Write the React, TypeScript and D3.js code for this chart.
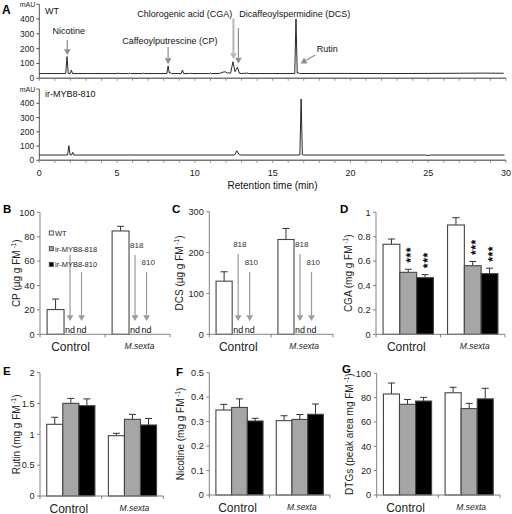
import React from "react";
import * as d3 from "d3";

const FONT = "'Liberation Sans', Arial, Helvetica, sans-serif";

// ---------- Panel A data: chromatogram traces [retention time (min), mAU] ----------
const wtTrace: [number, number][] = [
  [0, 32], [1.7, 32], [1.78, 146], [1.86, 33], [1.98, 33], [2.06, 55], [2.14, 32],
  [5.0, 32], [5.06, 36], [5.12, 32], [5.75, 32], [5.8, 35], [5.85, 32],
  [6.65, 32], [6.7, 35], [6.75, 32], [8.2, 32], [8.28, 83], [8.36, 34], [8.42, 40], [8.5, 32],
  [9.12, 32], [9.2, 56], [9.28, 32], [9.65, 32], [9.7, 36], [9.75, 32],
  [10.95, 32], [11.0, 37], [11.05, 32], [11.6, 33], [11.75, 40], [11.95, 44], [12.1, 36], [12.3, 36],
  [12.45, 112], [12.58, 45], [12.74, 75], [12.86, 34], [13.0, 32], [13.4, 35], [13.45, 32],
  [16.42, 32], [16.5, 400], [16.58, 34], [16.66, 38], [16.74, 32],
  [19, 33], [22, 32], [25, 33], [28.5, 35], [29.85, 34],
];
const irTrace: [number, number][] = [
  [0, 37], [1.82, 37], [1.9, 102], [1.98, 38], [2.08, 38], [2.15, 56], [2.22, 37],
  [5.78, 37], [5.83, 40], [5.88, 37], [12.55, 37], [12.7, 67], [12.85, 40], [13.0, 37],
  [16.75, 37], [16.83, 430], [16.91, 38], [17.0, 37], [24.8, 37], [25.0, 34], [25.2, 37], [29.9, 37],
];
const timeTicks = [0, 5, 10, 15, 20, 25, 30];
const mauTicks = [0, 100, 200, 300, 400];

// ---------- Bar panels data ----------
const categories = ["Control", "M.sexta"];
const series = ["WT", "ir-MYB8-818", "ir-MYB8-810"];
const seriesFill = ["#ffffff", "#a6a6a6", "#000000"];

const cpWT = [20.3, 84.7];
const cpWTErr = [8.6, 3.8];
const dcsWT = [130, 232];
const dcsWTErr = [23, 27];

const cgaWT = [0.738, 0.896];
const cgaWTErr = [0.043, 0.06];
const cga818 = [0.508, 0.562];
const cga818Err = [0.025, 0.035];
const cga810 = [0.464, 0.497];
const cga810Err = [0.025, 0.045];

const rutinWT = [1.163, 0.978];
const rutinWTErr = [0.114, 0.039];
const rutin818 = [1.503, 1.244];
const rutin818Err = [0.08, 0.08];
const rutin810 = [1.465, 1.152];
const rutin810Err = [0.11, 0.105];

const nicWT = [0.3475, 0.304];
const nicWTErr = [0.023, 0.02];
const nic818 = [0.358, 0.309];
const nic818Err = [0.035, 0.02];
const nic810 = [0.3025, 0.33];
const nic810Err = [0.011, 0.042];

const dtgWT = [83, 84];
const dtgWTErr = [9, 4.5];
const dtg818 = [74.5, 71];
const dtg818Err = [4, 4.3];
const dtg810 = [77.2, 79];
const dtg810Err = [3, 8.7];

type Ser = { mean: (number | null)[]; err: (number | null)[] };

function Chromatogram({ trace, yBase, yTop400, label, showTimeLabels }: any) {
  const x = d3.scaleLinear().domain([0, 30]).range([39.3, 506]);
  const y = d3.scaleLinear().domain([0, 400]).range([yBase, yTop400]);
  const line = d3.line<[number, number]>().x((d) => x(d[0])).y((d) => y(d[1]));
  const minorTicks = d3.range(0, 31, 1);
  return (
    <g>
      <line x1={x(0)} x2={x(0)} y1={y(500)} y2={y(0)} stroke="#555" strokeWidth={1} />
      {mauTicks.map((t) => (
        <g key={t}>
          <line x1={x(0) - 3} x2={x(0)} y1={y(t)} y2={y(t)} stroke="#555" />
          <text x={x(0) - 5} y={y(t)} dy="0.35em" textAnchor="end" fontSize={8.5} fill="#222">{t}</text>
        </g>
      ))}
      <line x1={x(0) - 3} x2={x(0)} y1={y(500)} y2={y(500)} stroke="#555" />
      <text x={x(0) - 4} y={y(500) + 2.5} textAnchor="end" fontSize={7} fill="#222">mAU</text>
      <line x1={x(0)} x2={x(30)} y1={y(0)} y2={y(0)} stroke="#777" strokeWidth={1.5} />
      {minorTicks.map((t) => (
        <line key={t} x1={x(t)} x2={x(t)} y1={y(0)} y2={y(0) + 2.5} stroke="#777" strokeWidth={0.8} />
      ))}
      <path d={line(trace) || ""} fill="none" stroke="#111" strokeWidth={0.9} />
      <text x={45} y={yTop400 - 6.5 + (label === "WT" ? 1 : 0)} fontSize={9} fill="#111">{label}</text>
      {showTimeLabels &&
        timeTicks.map((t) => (
          <text key={t} x={x(t)} y={176} textAnchor="middle" fontSize={9} fill="#222">{t}</text>
        ))}
    </g>
  );
}

function Arrow({ x1, y1, x2, y2, color = "#8c8c8c", width = 1.2, head = 4.5 }: any) {
  const ang = Math.atan2(y2 - y1, x2 - x1);
  const bx = x2 - head * 1.3 * Math.cos(ang);
  const by = y2 - head * 1.3 * Math.sin(ang);
  const px = Math.cos(ang + Math.PI / 2) * head * 0.75;
  const py = Math.sin(ang + Math.PI / 2) * head * 0.75;
  return (
    <g>
      <line x1={x1} y1={y1} x2={bx} y2={by} stroke={color} strokeWidth={width} />
      <polygon points={`${x2},${y2} ${bx + px},${by + py} ${bx - px},${by - py}`} fill={color} />
    </g>
  );
}

function PanelA() {
  const x = d3.scaleLinear().domain([0, 30]).range([39.3, 506]);
  const yT = d3.scaleLinear().domain([0, 400]).range([78.3, 19]);
  return (
    <g>
      <text x={2} y={14} fontSize={12} fontWeight="bold">A</text>
      <Chromatogram trace={wtTrace} yBase={78.3} yTop400={19} label="WT" showTimeLabels={false} />
      <Chromatogram trace={irTrace} yBase={160.3} yTop400={103.3} label="ir-MYB8-810" showTimeLabels={true} />
      {/* annotations */}
      <text x={x(1.9)} y={34.3} textAnchor="middle" fontSize={9} fill="#111">Nicotine</text>
      <Arrow x1={x(1.8)} y1={40} x2={x(1.8)} y2={yT(150) - 1} />
      <text x={x(8.3) + 1.5} y={44.3} textAnchor="middle" fontSize={9} fill="#111">Caffeoylputrescine (CP)</text>
      <Arrow x1={x(8.28)} y1={47} x2={x(8.28)} y2={yT(95)} />
      <text x={137.3} y={17.3} fontSize={9} fill="#111">Chlorogenic acid (CGA)</text>
      <Arrow x1={x(12.48)} y1={18.5} x2={x(12.48)} y2={yT(130)} color="#b5b5b5" width={2} />
      <text x={239.3} y={17.3} fontSize={9} fill="#111">Dicaffeoylspermidine (DCS)</text>
      <Arrow x1={x(12.8)} y1={28} x2={x(12.8)} y2={yT(100)} />
      <text x={316.7} y={51.5} fontSize={9} fill="#111">Rutin</text>
      <Arrow x1={315.3} y1={55} x2={x(16.8)} y2={yT(100)} />
      <text x={272.5} y={189} textAnchor="middle" fontSize={10} fill="#111">Retention time (min)</text>
    </g>
  );
}

function BarPanel(props: any) {
  const { letter, lx, ly, x0, x1, yBase, yTop, max, step, fmt, data, yLabel, labelX, nd, legend, stars } = props;
  const y = d3.scaleLinear().domain([0, max]).range([yBase, yTop]);
  const band = d3.scaleBand<string>().domain(categories).range([x0, x1]);
  const inner = d3.scaleBand<string>().domain(series).range([0, band.bandwidth()]).paddingInner(0).paddingOuter(0.42);
  const ticks = d3.range(0, max + step / 2, step);
  const axisColor = "#808080";
  const mid = x0 + band.bandwidth();
  return (
    <g>
      <text x={lx} y={ly} fontSize={11.5} fontWeight="bold">{letter}</text>
      {/* y axis */}
      <line x1={x0} x2={x0} y1={yTop} y2={yBase} stroke={axisColor} />
      {ticks.map((t: number) => (
        <g key={t}>
          <line x1={x0 - 3} x2={x0} y1={y(t)} y2={y(t)} stroke={axisColor} />
          <text x={x0 - 5.5} y={y(t)} dy="0.35em" textAnchor="end" fontSize={9.2} fill="#222">{fmt(t)}</text>
        </g>
      ))}
      <text transform={`translate(${labelX},${(yTop + yBase) / 2}) rotate(-90)`} textAnchor="middle" fontSize={10} fill="#222">
        {yLabel}
        <tspan fontSize={6.5} dy={-4}> -1</tspan>
        <tspan dy={4}>)</tspan>
      </text>
      {/* bars */}
      {categories.map((c, ci) =>
        series.map((s, si) => {
          const m = (data[si] as Ser).mean[ci];
          const e = (data[si] as Ser).err[ci];
          if (m == null) return null;
          const bx = (band(c) as number) + (inner(s) as number);
          const bw = inner.bandwidth();
          const cx = bx + bw / 2;
          return (
            <g key={c + s}>
              <line x1={cx} x2={cx} y1={y(m)} y2={y(m + (e || 0))} stroke="#333" strokeWidth={1} />
              <line x1={cx - 3.5} x2={cx + 3.5} y1={y(m + (e || 0))} y2={y(m + (e || 0))} stroke="#333" strokeWidth={1} />
              <rect x={bx} y={y(m)} width={bw} height={yBase - y(m)} fill={seriesFill[si]} stroke="#444" strokeWidth={1.1} />
            </g>
          );
        })
      )}
      {/* x axis */}
      <line x1={x0} x2={x1} y1={yBase} y2={yBase} stroke={axisColor} />
      {[x0, mid, x1].map((tx, i) => (
        <line key={i} x1={tx} x2={tx} y1={yBase} y2={yBase + 3} stroke={axisColor} />
      ))}
      {categories.map((c, ci) => (
        <text
          key={c}
          x={(band(c) as number) + band.bandwidth() / 2 + (ci === 0 ? -2 : 2)}
          y={yBase + (ci === 0 ? 16.5 : 14.5)}
          textAnchor="middle"
          fontSize={ci === 0 ? 12 : 8.5}
          fontStyle={ci === 0 ? "normal" : "italic"}
          fill="#222"
        >
          {c}
        </text>
      ))}
      {/* not detected arrows */}
      {nd &&
        categories.map((c, ci) => {
          const bx = (band(c) as number) + (inner("WT") as number) + inner.bandwidth();
          const ax = [bx + 6, bx + 17.5];
          return (
            <g key={"nd" + c}>
              {ax.map((xx, k) => (
                <g key={k}>
                  <Arrow x1={xx} y1={nd.tops[k]} x2={xx} y2={321} color="#9a9a9a" width={1.2} head={4.5} />
                  {nd.labels[ci] && (
                    <text x={xx - 5} y={nd.tops[k] - 7} fontSize={8} fill="#333">{k === 0 ? "818" : "810"}</text>
                  )}
                  <text x={xx} y={332.5} textAnchor="middle" fontSize={9} fill="#111">nd</text>
                </g>
              ))}
            </g>
          );
        })}
      {/* legend */}
      {legend &&
        series.map((s, si) => (
          <g key={s}>
            <rect x={49.3} y={231 + si * 15.7} width={4} height={4} fill={seriesFill[si]} stroke="#444" strokeWidth={0.9} />
            <text x={55} y={236 + si * 15.7} fontSize={7.5} fill="#222">{s}</text>
          </g>
        ))}
      {/* significance stars: "***" rotated to read bottom-to-top */}
      {stars &&
        categories.map((c, ci) =>
          [1, 2].map((si) => {
            const m = (data[si] as Ser).mean[ci] as number;
            const e = (data[si] as Ser).err[ci] as number;
            const cx = (band(c) as number) + (inner(series[si]) as number) + inner.bandwidth() / 2;
            const fs = 12;
            return (
              <text
                key={c + si}
                transform={`translate(${cx + 0.58 * fs},${y(m + e) - 6.5}) rotate(-90)`}
                fontSize={fs}
                fontWeight="bold"
                letterSpacing={0.6}
                fill="#000"
              >
                ***
              </text>
            );
          })
        )}
    </g>
  );
}

const none: Ser = { mean: [null, null], err: [null, null] };

export default function App() {
  const f0 = (t: number) => String(t);
  const f1 = (t: number) => String(Math.round(t * 10) / 10);
  return (
    <svg
      width={512}
      height={514}
      style={{ position: "absolute", left: 0, top: 0, background: "#fff" }}
      fontFamily={FONT}
    >
      <rect width={512} height={514} fill="#fff" />
      <PanelA />
      <BarPanel
        letter="B" lx={3} ly={212.5} x0={40} x1={170} yBase={334.3} yTop={212.3} max={100} step={20} fmt={f0}
        data={[{ mean: cpWT, err: cpWTErr }, none, none]} yLabel="CP (µg g FM" labelX={20}
        nd={{ tops: [255, 272], labels: [false, true] }} legend={true}
      />
      <BarPanel
        letter="C" lx={172} ly={212.5} x0={209.3} x1={333} yBase={334.3} yTop={211.7} max={300} step={100} fmt={f0}
        data={[{ mean: dcsWT, err: dcsWTErr }, none, none]} yLabel="DCS (µg g FM" labelX={183}
        nd={{ tops: [254, 272], labels: [true, true] }}
      />
      <BarPanel
        letter="D" lx={340} ly={212.5} x0={376} x1={505} yBase={334.3} yTop={212.3} max={1} step={0.2} fmt={f1}
        data={[{ mean: cgaWT, err: cgaWTErr }, { mean: cga818, err: cga818Err }, { mean: cga810, err: cga810Err }]}
        yLabel="CGA (mg g FM" labelX={352} stars={true}
      />
      <BarPanel
        letter="E" lx={3} ly={375} x0={40} x1={163.3} yBase={496} yTop={372.7} max={2} step={0.5} fmt={f1}
        data={[{ mean: rutinWT, err: rutinWTErr }, { mean: rutin818, err: rutin818Err }, { mean: rutin810, err: rutin810Err }]}
        yLabel="Rutin (mg g FM" labelX={19.5}
      />
      <BarPanel
        letter="F" lx={176} ly={376} x0={209.3} x1={330} yBase={495} yTop={372.7} max={0.5} step={0.1} fmt={f1}
        data={[{ mean: nicWT, err: nicWTErr }, { mean: nic818, err: nic818Err }, { mean: nic810, err: nic810Err }]}
        yLabel="Nicotine (mg g FM" labelX={184}
      />
      <BarPanel
        letter="G" lx={342} ly={372.5} x0={376.7} x1={500} yBase={495} yTop={373.3} max={100} step={20} fmt={f0}
        data={[{ mean: dtgWT, err: dtgWTErr }, { mean: dtg818, err: dtg818Err }, { mean: dtg810, err: dtg810Err }]}
        yLabel="DTGs (peak area mg FM" labelX={353}
      />
    </svg>
  );
}
